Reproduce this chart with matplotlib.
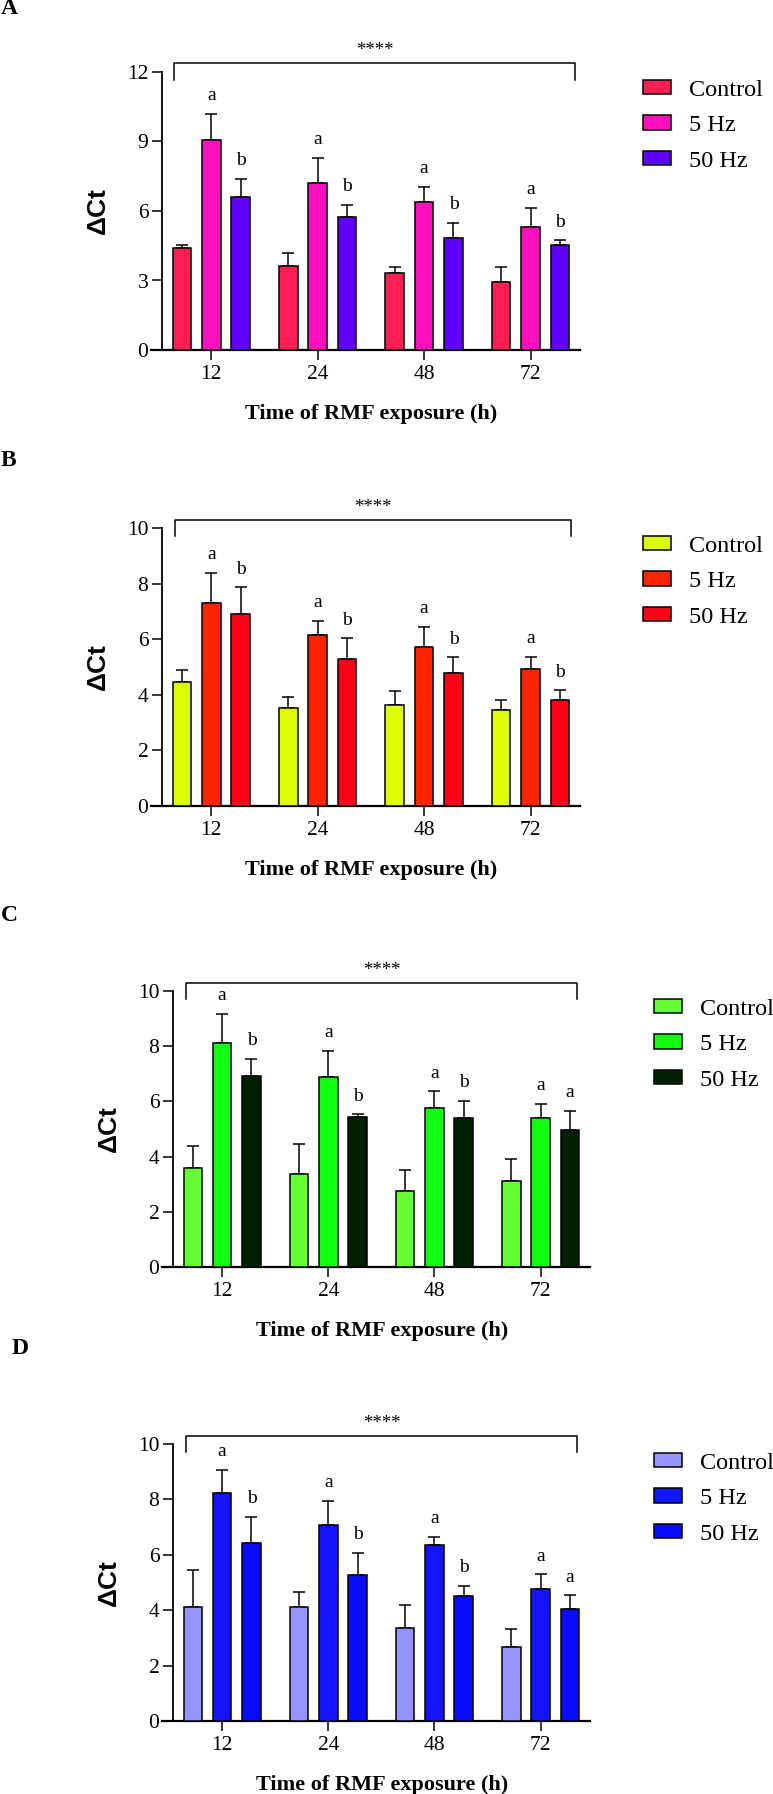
import matplotlib
matplotlib.use('Agg')
import matplotlib.pyplot as plt
from matplotlib.patches import Patch
import numpy as np

# ---------------- data ----------------
times = ['12', '24', '48', '72']
series = ['Control', '5 Hz', '50 Hz']

A_control = [4.40, 3.63, 3.31, 2.95]
A_control_err = [0.13, 0.57, 0.29, 0.62]
A_5hz = [9.06, 7.22, 6.40, 5.32]
A_5hz_err = [1.13, 1.07, 0.64, 0.80]
A_50hz = [6.62, 5.73, 4.83, 4.52]
A_50hz_err = [0.76, 0.54, 0.67, 0.21]
A_letters_5hz = ['a', 'a', 'a', 'a']
A_letters_50hz = ['b', 'b', 'b', 'b']

B_control = [4.47, 3.51, 3.65, 3.45]
B_control_err = [0.42, 0.42, 0.48, 0.36]
B_5hz = [7.32, 6.15, 5.73, 4.93]
B_5hz_err = [1.06, 0.52, 0.72, 0.44]
B_50hz = [6.89, 5.28, 4.77, 3.80]
B_50hz_err = [0.97, 0.75, 0.58, 0.36]
B_letters_5hz = ['a', 'a', 'a', 'a']
B_letters_50hz = ['b', 'b', 'b', 'b']

C_control = [3.60, 3.37, 2.76, 3.10]
C_control_err = [0.80, 1.09, 0.76, 0.82]
C_5hz = [8.10, 6.87, 5.77, 5.40]
C_5hz_err = [1.08, 0.97, 0.59, 0.50]
C_50hz = [6.93, 5.45, 5.39, 4.95]
C_50hz_err = [0.61, 0.08, 0.63, 0.70]
C_letters_5hz = ['a', 'a', 'a', 'a']
C_letters_50hz = ['b', 'b', 'b', 'a']

D_control = [4.13, 4.10, 3.37, 2.68]
D_control_err = [1.32, 0.57, 0.80, 0.63]
D_5hz = [8.23, 7.06, 6.34, 4.77]
D_5hz_err = [0.84, 0.88, 0.30, 0.52]
D_50hz = [6.41, 5.28, 4.52, 4.06]
D_50hz_err = [0.95, 0.79, 0.35, 0.48]
D_letters_5hz = ['a', 'a', 'a', 'a']
D_letters_50hz = ['b', 'b', 'b', 'a']

A_ticks = [0, 3, 6, 9, 12]
BCD_ticks = [0, 2, 4, 6, 8, 10]

# ---------------- style / layout ----------------
W, H = 773, 1794
SERIF = ['Liberation Serif', 'DejaVu Serif']
SANS = ['Liberation Sans', 'DejaVu Sans']
plt.rcParams['font.family'] = SERIF

fig = plt.figure(figsize=(W / 100, H / 100), dpi=100)

def px_axes(left, right, top, bottom):
    return fig.add_axes([left / W, 1 - bottom / H, (right - left) / W, (bottom - top) / H])

panels = [
    dict(label='A', lab_xy=(1, 9), box=(151, 580, 72, 350), ymax=12, ticks=A_ticks,
         data=(A_control, A_5hz, A_50hz), err=(A_control_err, A_5hz_err, A_50hz_err),
         letters=(A_letters_5hz, A_letters_50hz),
         colors=('#FF1F55', '#FF10BE', '#6000FF'),
         bracket=(-0.35, 3.42, 12.37, 11.64), leg=(643, 90.5)),
    dict(label='B', lab_xy=(1, 461), box=(151, 580, 528, 806), ymax=10, ticks=BCD_ticks,
         data=(B_control, B_5hz, B_50hz), err=(B_control_err, B_5hz_err, B_50hz_err),
         letters=(B_letters_5hz, B_letters_50hz),
         colors=('#DDFF00', '#FF2500', '#FF0018'),
         bracket=(-0.345, 3.38, 10.29, 9.71), leg=(643, 546.5)),
    dict(label='C', lab_xy=(1, 915), box=(162, 590, 991, 1267), ymax=10, ticks=BCD_ticks,
         data=(C_control, C_5hz, C_50hz), err=(C_control_err, C_5hz_err, C_50hz_err),
         letters=(C_letters_5hz, C_letters_50hz),
         colors=('#66FF33', '#11FF11', '#002000'),
         bracket=(-0.34, 3.34, 10.29, 9.72), leg=(654, 1009.5)),
    dict(label='D', lab_xy=(12, 1348), box=(162, 590, 1444, 1721), ymax=10, ticks=BCD_ticks,
         data=(D_control, D_5hz, D_50hz), err=(D_control_err, D_5hz_err, D_50hz_err),
         letters=(D_letters_5hz, D_letters_50hz),
         colors=('#9494FF', '#1414FF', '#0A0AFF'),
         bracket=(-0.34, 3.34, 10.28, 9.71), leg=(654, 1463.5)),
]

XLIM = (-0.567, 3.465)
YSPINE_X = -0.46
OFFSET = 0.276
BAR_W = 0.175
LW = 1.1

for p in panels:
    l, r, t, b = p['box']
    ax = px_axes(l, r, t, b)
    x = np.arange(len(times))
    for i in range(3):
        xs = x + (i - 1) * OFFSET
        ax.bar(xs, p['data'][i], width=BAR_W, color=p['colors'][i],
               edgecolor='black', linewidth=LW, zorder=3, label=series[i])
        ax.errorbar(xs, p['data'][i], yerr=[np.zeros(len(times)), p['err'][i]],
                    fmt='none', ecolor='black', elinewidth=LW, capsize=4.0,
                    capthick=LW, zorder=2)
    # significance letters above 5 Hz and 50 Hz bars
    for i in (1, 2):
        xs = x + (i - 1) * OFFSET
        tops = np.array(p['data'][i]) + np.array(p['err'][i])
        for xx, yy, let in zip(xs, tops, p['letters'][i - 1]):
            ax.annotate(let, (xx, yy), xytext=(0, 7), textcoords='offset points',
                        ha='center', va='bottom', fontsize=14, family=SERIF,
                        annotation_clip=False)
    # bracket and ****
    x0, x1, yb, yt = p['bracket']
    ax.plot([x0, x0, x1, x1], [yt, yb, yb, yt], color='black', lw=LW,
            clip_on=False, zorder=4)
    ax.text((x0 + x1) / 2, yb + 0.045 * p['ymax'], '****', ha='center',
            va='center', fontsize=13.5, family=SERIF)

    ax.set_xlim(*XLIM)
    ax.set_ylim(0, p['ymax'])
    ax.set_yticks(p['ticks'])
    ax.set_xticks(x)
    ax.set_xticklabels(times)
    ax.spines['top'].set_visible(False)
    ax.spines['right'].set_visible(False)
    ax.spines['left'].set_position(('data', YSPINE_X))
    ax.spines['left'].set_linewidth(1.3)
    ax.spines['bottom'].set_linewidth(1.6)
    ax.tick_params(axis='both', direction='out', length=7, width=LW,
                   labelsize=15.5, pad=3)
    ax.tick_params(axis='x', pad=4)
    ax.set_facecolor('none')

    ax.set_ylabel('ΔCt', fontsize=19, fontweight='bold', family=SANS)
    ax.yaxis.set_label_coords(-0.095, 0.5)
    ax.set_xlabel('Time of RMF exposure (h)', fontsize=16, fontweight='bold',
                  family=SERIF, va='center')
    ax.xaxis.set_label_coords(0.514, -64 / (b - t))

    # panel letter
    fig.text(p['lab_xy'][0] / W, 1 - p['lab_xy'][1] / H, p['label'], ha='left',
             va='center', fontsize=17, fontweight='bold', family=SERIF)

    # legend
    handles = [Patch(facecolor=c, edgecolor='black', linewidth=LW) for c in p['colors']]
    lx, ly = p['leg']
    leg = ax.legend(handles, series, loc='upper left',
                    bbox_to_anchor=(lx / W, 1 - (ly - 11) / H),
                    bbox_transform=fig.transFigure, frameon=False, fontsize=17.5,
                    handlelength=1.15, handleheight=0.55, handletextpad=0.75,
                    labelspacing=0.6, borderpad=0, borderaxespad=0)

fig.savefig('out.png', dpi=100)
